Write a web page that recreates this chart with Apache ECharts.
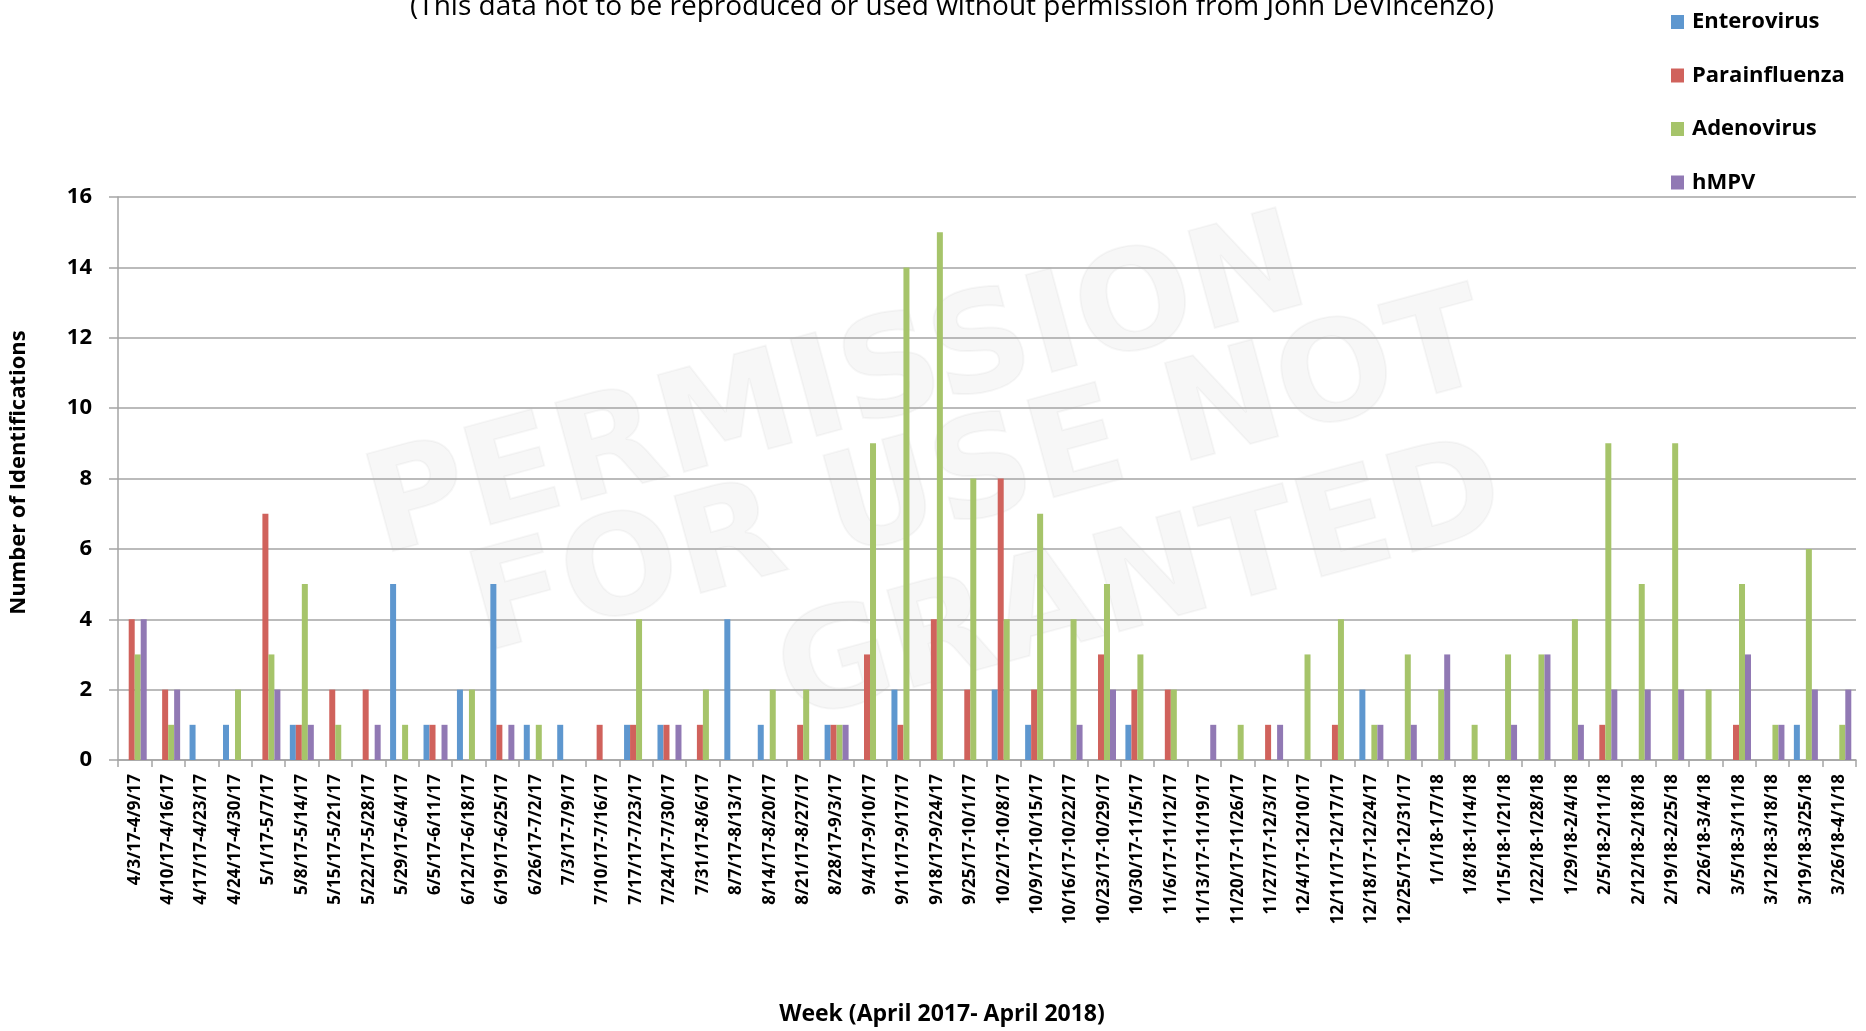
<!DOCTYPE html>
<html>
<head>
<meta charset="utf-8">
<script src="https://cdn.jsdelivr.net/npm/echarts@6/dist/echarts.min.js"></script>
<style>
html,body{margin:0;padding:0;background:#fff;}
#chart{width:1866px;height:1031px;}
</style>
</head>
<body>
<div id="chart"></div>
<script>
const weeks = ["4/3/17-4/9/17","4/10/17-4/16/17","4/17/17-4/23/17","4/24/17-4/30/17","5/1/17-5/7/17","5/8/17-5/14/17","5/15/17-5/21/17","5/22/17-5/28/17","5/29/17-6/4/17","6/5/17-6/11/17","6/12/17-6/18/17","6/19/17-6/25/17","6/26/17-7/2/17","7/3/17-7/9/17","7/10/17-7/16/17","7/17/17-7/23/17","7/24/17-7/30/17","7/31/17-8/6/17","8/7/17-8/13/17","8/14/17-8/20/17","8/21/17-8/27/17","8/28/17-9/3/17","9/4/17-9/10/17","9/11/17-9/17/17","9/18/17-9/24/17","9/25/17-10/1/17","10/2/17-10/8/17","10/9/17-10/15/17","10/16/17-10/22/17","10/23/17-10/29/17","10/30/17-11/5/17","11/6/17-11/12/17","11/13/17-11/19/17","11/20/17-11/26/17","11/27/17-12/3/17","12/4/17-12/10/17","12/11/17-12/17/17","12/18/17-12/24/17","12/25/17-12/31/17","1/1/18-1/7/18","1/8/18-1/14/18","1/15/18-1/21/18","1/22/18-1/28/18","1/29/18-2/4/18","2/5/18-2/11/18","2/12/18-2/18/18","2/19/18-2/25/18","2/26/18-3/4/18","3/5/18-3/11/18","3/12/18-3/18/18","3/19/18-3/25/18","3/26/18-4/1/18"];
const enterovirus   = [0,0,1,1,0,1,0,0,5,1,2,5,1,1,0,1,1,0,4,1,0,1,0,2,0,0,2,1,0,0,1,0,0,0,0,0,0,2,0,0,0,0,0,0,0,0,0,0,0,0,1,0];
const parainfluenza = [4,2,0,0,7,1,2,2,0,1,0,1,0,0,1,1,1,1,0,0,1,1,3,1,4,2,8,2,0,3,2,2,0,0,1,0,1,0,0,0,0,0,0,0,1,0,0,0,1,0,0,0];
const adenovirus    = [3,1,0,2,3,5,1,0,1,0,2,0,1,0,0,4,0,2,0,2,2,1,9,14,15,8,4,7,4,5,3,2,0,1,0,3,4,1,3,2,1,3,3,4,9,5,9,2,5,1,6,1];
const hmpv          = [4,2,0,0,2,1,0,1,0,1,0,1,0,0,0,0,1,0,0,0,0,1,0,0,0,0,0,0,1,2,0,0,1,0,1,0,0,1,1,3,0,1,3,1,2,2,2,0,3,1,2,2];
const seriesNames = ["Enterovirus","Parainfluenza","Adenovirus","hMPV"];
const yTicks = {min:0, max:16, interval:2};
const subtitle = "(This data not to be reproduced or used without permission from John DeVincenzo)";
const watermark = ["PERMISSION","FOR USE NOT","GRANTED"];

const colors = ['#5e97cf','#d0625c','#a6c46a','#9179b4'];
const FONT = '"Open Sans", "DejaVu Sans", sans-serif';
const chart = echarts.init(document.getElementById('chart'), null, {renderer:'canvas'});
const values = [enterovirus, parainfluenza, adenovirus, hmpv];

const wmStyle = {fill:'rgba(0,0,0,0.032)', stroke:'rgba(0,0,0,0.03)', lineWidth:2, font:'bold 138px "DejaVu Sans", sans-serif', textAlign:'center', textVerticalAlign:'middle'};
const ROT = 0.265;

chart.setOption({
  animation:false,
  backgroundColor:'#fff',
  color: colors,
  graphic:[
    {type:'text', x:952, y:7, z:100, style:{text:subtitle, fill:'#000', font:'28px "Open Sans", sans-serif', textAlign:'center', textVerticalAlign:'middle'}},
    {type:'text', x:838, y:393, rotation:ROT, z:-10, silent:true, style:Object.assign({text:watermark[0]}, wmStyle)},
    {type:'text', x:980, y:480, rotation:ROT, z:-10, silent:true, style:Object.assign({text:watermark[1]}, wmStyle)},
    {type:'text', x:1142, y:588, rotation:ROT, z:-10, silent:true, style:Object.assign({text:watermark[2]}, wmStyle)}
  ],
  legend:{
    orient:'vertical', left:1666, top:6,
    itemWidth:13, itemHeight:14, itemGap:31.5,
    icon:'rect',
    data: seriesNames,
    textStyle:{fontFamily:FONT, fontWeight:'bold', fontSize:22, color:'#000', lineHeight:20, padding:[0,0,0,3]}
  },
  grid:{left:117, right:10, top:197, bottom:256, containLabel:false},
  xAxis:{
    type:'category', data: weeks,
    axisLine:{lineStyle:{color:'#a5a5a5', width:1.5}},
    axisTick:{show:true, length:7, alignWithLabel:false, lineStyle:{color:'#a5a5a5', width:1.5}},
    axisLabel:{interval:0, rotate:90, margin:14, fontFamily:FONT, fontWeight:'bold', fontSize:17, color:'#000'},
    name:'Week (April 2017- April 2018)', nameLocation:'middle', nameGap:243,
    nameTextStyle:{fontFamily:FONT, fontWeight:'bold', fontSize:23, color:'#000', padding:[0,90,0,0]}
  },
  yAxis:{
    type:'value', min:yTicks.min, max:yTicks.max, interval:yTicks.interval,
    axisLine:{show:true, lineStyle:{color:'#a5a5a5', width:1.5}},
    axisTick:{show:true, length:9, lineStyle:{color:'#a5a5a5', width:1.5}},
    splitLine:{show:true, lineStyle:{color:'#a5a5a5', width:1.5}},
    axisLabel:{margin:26, fontFamily:FONT, fontWeight:'bold', fontSize:22, color:'#000'},
    name:'Number of Identifications', nameLocation:'middle', nameGap:88, nameRotate:90,
    nameTextStyle:{fontFamily:FONT, fontWeight:'bold', fontSize:22, color:'#000', padding:[0,0,0,12]}
  },
  series: seriesNames.map((n,i)=>({
    name:n, type:'bar', data: values[i], barWidth:6, barGap:'0%',
    itemStyle:{color:colors[i]}
  }))
});
</script>
</body>
</html>
